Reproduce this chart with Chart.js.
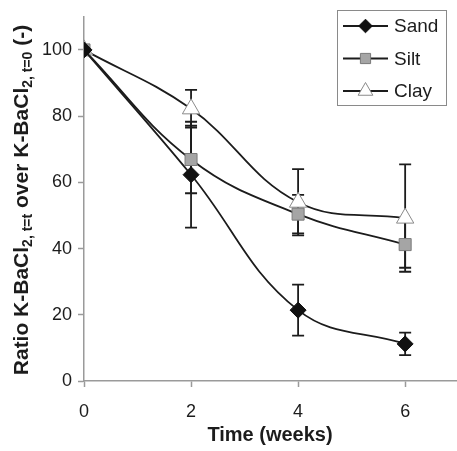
<!DOCTYPE html>
<html>
<head>
<meta charset="UTF-8">
<script src="https://cdn.jsdelivr.net/npm/chart.js"></script>
<style>
  html, body { margin: 0; padding: 0; background: #fff; }
  #wrap { width: 457px; height: 451px; }
</style>
</head>
<body>
<div id="wrap"><canvas id="c" width="457" height="451"></canvas></div>
<script>
  const weeks = [0, 2, 4, 6];
  const sand = [100, 62.3, 21.4, 11.2];
  const sandErr = [0, 16, 7.7, 3.4];
  const silt = [100, 66.9, 50.4, 41.2];
  const siltErr = [0, 10.2, 5.8, 7];
  const clay = [100, 82.2, 54, 49.2];
  const clayErr = [0, 5.7, 10, 16.2];
  const xTicks = [0, 2, 4, 6];
  const yTicks = [0, 20, 40, 60, 80, 100];

  const FONT = '"Liberation Sans", Arial, sans-serif';
  const INK = '#1c1c1c';
  const AXIS = '#9a9a9a';

  const errs = [sandErr, siltErr, clayErr];

  const errorBars = {
    id: 'errorBars',
    beforeDatasetsDraw(chart) {
      const { ctx, scales: { x, y } } = chart;
      ctx.save();
      ctx.strokeStyle = INK;
      ctx.lineWidth = 1.8;
      chart.data.datasets.forEach((ds, i) => {
        ds.data.forEach(p => {
          const e = errs[i][weeks.indexOf(p.x)];
          if (!e) return;
          const px = x.getPixelForValue(p.x);
          const top = y.getPixelForValue(p.y + e);
          const bot = y.getPixelForValue(p.y - e);
          ctx.beginPath();
          ctx.moveTo(px, top); ctx.lineTo(px, bot);
          ctx.moveTo(px - 6, top); ctx.lineTo(px + 6, top);
          ctx.moveTo(px - 6, bot); ctx.lineTo(px + 6, bot);
          ctx.stroke();
        });
      });
      ctx.restore();
    }
  };

  const extras = {
    id: 'extras',
    afterDraw(chart) {
      const ctx = chart.ctx;
      ctx.save();
      // legend box
      ctx.strokeStyle = '#8a8a8a';
      ctx.lineWidth = 1;
      ctx.strokeRect(337.5, 10.5, 109, 95);
      chart.data.datasets.forEach((ds, i) => {
        const yy = 26 + i * 32.5;
        ctx.strokeStyle = INK;
        ctx.lineWidth = 1.8;
        ctx.beginPath();
        ctx.moveTo(343, yy); ctx.lineTo(388, yy);
        ctx.stroke();
        ctx.fillStyle = ds.pointBackgroundColor;
        ctx.strokeStyle = ds.pointBorderColor;
        ctx.lineWidth = 1;
        Chart.helpers.drawPoint(ctx, { pointStyle: ds.pointStyle, radius: ds.pointRadius * 0.85, borderWidth: 1 }, 365.5, yy);
        ctx.fillStyle = INK;
        ctx.font = '19px ' + FONT;
        ctx.textBaseline = 'middle';
        ctx.textAlign = 'left';
        ctx.fillText(ds.label, 394, yy + 1);
      });
      // rotated y title with subscripts
      const runs = [
        ['Ratio K-BaCl', false], ['2, t=t', true], [' over K-BaCl', false], ['2, t=0', true], [' (-)', false]
      ];
      const big = 'bold 21px ' + FONT, small = 'bold 14px ' + FONT;
      let total = 0;
      runs.forEach(r => { ctx.font = r[1] ? small : big; total += ctx.measureText(r[0]).width; });
      ctx.translate(28, 200);
      ctx.rotate(-Math.PI / 2);
      ctx.fillStyle = INK;
      ctx.textBaseline = 'alphabetic';
      let cx = -total / 2;
      runs.forEach(r => {
        ctx.font = r[1] ? small : big;
        ctx.fillText(r[0], cx, r[1] ? 4 : 0);
        cx += ctx.measureText(r[0]).width;
      });
      ctx.restore();
    }
  };

  const toPts = arr => weeks.map((w, i) => ({ x: w, y: arr[i] }));

  new Chart(document.getElementById('c'), {
    type: 'line',
    data: {
      datasets: [
        { label: 'Sand', data: toPts(sand), pointStyle: 'rectRot', pointRadius: 8,
          pointBackgroundColor: '#111', pointBorderColor: '#111' },
        { label: 'Silt', data: toPts(silt), pointStyle: 'rect', pointRadius: 8.5,
          pointBackgroundColor: '#a5a5a5', pointBorderColor: '#7a7a7a' },
        { label: 'Clay', data: toPts(clay), pointStyle: 'triangle', pointRadius: 10,
          pointBackgroundColor: '#ffffff', pointBorderColor: '#8a8a8a' }
      ].map(d => Object.assign(d, {
        borderColor: INK, borderWidth: 1.8, tension: 0.4, pointBorderWidth: 1, fill: false
      }))
    },
    options: {
      responsive: false,
      animation: false,
      layout: { autoPadding: false, padding: { top: 16, right: 1, left: 0, bottom: 0 } },
      plugins: { legend: { display: false }, tooltip: { enabled: false } },
      scales: {
        x: {
          type: 'linear', min: 0, max: 6.95,
          afterBuildTicks: s => { s.ticks = xTicks.map(v => ({ value: v })); },
          afterFit: s => { s.height = 70; },
          border: { color: AXIS, width: 1.5 },
          grid: { drawOnChartArea: false, color: AXIS, tickLength: 6, tickWidth: 1.5 },
          ticks: { color: INK, font: { family: FONT, size: 18 }, padding: 14 },
          title: { display: true, text: 'Time (weeks)', color: INK,
                   font: { family: FONT, size: 20, weight: 'bold' }, padding: { top: 8 } }
        },
        y: {
          type: 'linear', min: 0, max: 110,
          afterBuildTicks: s => { s.ticks = yTicks.map(v => ({ value: v })); },
          afterFit: s => { s.width = 84; },
          border: { color: AXIS, width: 1.5 },
          grid: { drawOnChartArea: false, color: AXIS, tickLength: 6, tickWidth: 1.5 },
          ticks: { color: INK, font: { family: FONT, size: 18 }, padding: 6 }
        }
      }
    },
    plugins: [errorBars, extras]
  });
</script>
</body>
</html>
